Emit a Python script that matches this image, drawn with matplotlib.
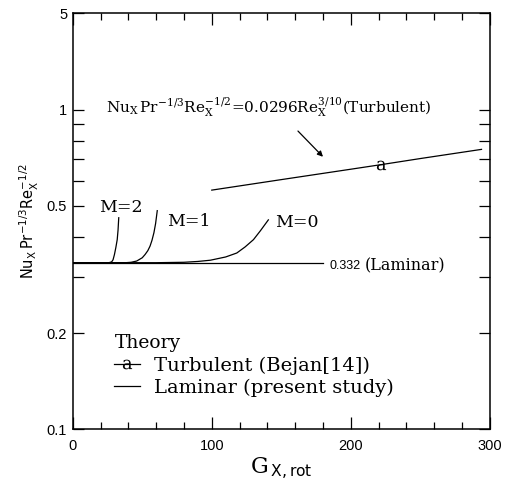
import matplotlib
matplotlib.use('Agg')
import matplotlib.pyplot as plt
from matplotlib.lines import Line2D
from matplotlib.ticker import FixedLocator, NullFormatter, MultipleLocator

plt.rcParams['mathtext.fontset'] = 'dejavuserif'

# Laminar (present study) curves
gx_m2 = [0, 26, 28, 29, 30, 31, 32, 32.6, 33.1]
nu_m2 = [0.332, 0.332, 0.334, 0.339, 0.352, 0.370, 0.392, 0.420, 0.459]
gx_m1 = [0, 38, 42, 46, 50, 52, 54, 55.6, 57, 58.4, 59.6, 60.8]
nu_m1 = [0.332, 0.332, 0.333, 0.336, 0.344, 0.352, 0.362, 0.374, 0.390,
         0.412, 0.440, 0.483]
gx_m0 = [0, 60, 80, 90, 99, 110, 118, 124, 130, 135, 140.7]
nu_m0 = [0.332, 0.332, 0.333, 0.335, 0.338, 0.346, 0.356, 0.372, 0.392,
         0.418, 0.452]

# flat laminar reference 0.332
gx_lam = [0, 180]
nu_lam = [0.332, 0.332]

# turbulent correlation (Bejan)
gx_turb = [100, 150, 200, 222, 250, 294]
nu_turb = [0.56, 0.604, 0.651, 0.673, 0.703, 0.751]

ytick_vals = [0.1, 0.2, 0.5, 1, 2]
ytick_labels = ['0.1', '0.2', '0.5', '1', '5']
yminor_vals = [0.3, 0.4, 0.6, 0.7, 0.8, 0.9]

fig = plt.figure(figsize=(5.05, 4.87), dpi=100)
ax = fig.add_axes([0.144, 0.1185, 0.826, 0.854])

lw = 0.9
ax.plot(gx_m2, nu_m2, color='black', lw=lw)
ax.plot(gx_m1, nu_m1, color='black', lw=lw)
ax.plot(gx_m0, nu_m0, color='black', lw=lw)
ax.plot(gx_lam, nu_lam, color='black', lw=lw)
ax.plot(gx_turb, nu_turb, color='black', lw=lw, marker=r'$\mathrm{a}$',
        markersize=7, mew=0, markevery=[3])

ax.set_yscale('log')
ax.set_xlim(0, 300)
ax.set_ylim(0.1, 2)

ax.yaxis.set_major_locator(FixedLocator(ytick_vals))
ax.set_yticklabels(ytick_labels)
ax.yaxis.set_minor_locator(FixedLocator(yminor_vals))
ax.yaxis.set_minor_formatter(NullFormatter())
ax.xaxis.set_major_locator(MultipleLocator(100))
ax.xaxis.set_minor_locator(MultipleLocator(20))

ax.tick_params(which='both', direction='in', top=True, right=True, width=0.9)
ax.tick_params(axis='x', which='major', length=8.4, pad=7)
ax.tick_params(axis='x', which='minor', length=4.8)
ax.tick_params(axis='y', which='both', length=8.0, pad=4)
for lab in ax.get_xticklabels() + ax.get_yticklabels():
    lab.set_fontfamily('Liberation Sans')
    lab.set_fontsize(10.5)
for sp in ax.spines.values():
    sp.set_linewidth(1.1)

ax.set_xlabel(r'$\mathrm{G}_{\,\mathsf{X,rot}}$', fontsize=16, labelpad=2)
ax.set_ylabel(r'$\mathsf{Nu_X\,Pr^{-1/3}Re_X^{-1/2}}$', fontsize=10.5, labelpad=4)

serif = 'DejaVu Serif'
ax.text(23.9, 1.017,
        r'$\mathrm{Nu_X\,Pr^{-1/3}Re_X^{-1/2}}$=0.0296$\mathrm{Re_X^{3/10}}$(Turbulent)',
        family=serif, fontsize=11, va='center', ha='left')
ax.annotate('', xy=(180, 0.712), xytext=(162, 0.857),
            arrowprops=dict(arrowstyle='-|>', lw=0.9, color='black',
                            mutation_scale=8, shrinkA=0, shrinkB=0))

ax.text(18.9, 0.494, 'M=2', family=serif, fontsize=12.5, va='center', ha='left')
ax.text(67.6, 0.448, 'M=1', family=serif, fontsize=12.5, va='center', ha='left')
ax.text(145.4, 0.443, 'M=0', family=serif, fontsize=12.5, va='center', ha='left')

ax.text(185, 0.3234, '0.332', family='Liberation Sans', fontsize=9,
        va='center', ha='left')
ax.text(210, 0.3234, '(Laminar)', family=serif, fontsize=11.5,
        va='center', ha='left')

handles = [
    Line2D([], [], color='black', lw=lw, marker=r'$\mathrm{a}$',
           markersize=7, mew=0),
    Line2D([], [], color='black', lw=lw),
]
labels = ['Turbulent (Bejan[14])', 'Laminar (present study)']
leg = ax.legend(handles, labels, title='Theory', loc='upper left',
                bbox_to_anchor=(0.1, 0.228), frameon=False,
                prop={'family': serif, 'size': 14},
                title_fontproperties={'family': serif, 'size': 13.5},
                alignment='left', borderpad=0, borderaxespad=0,
                handlelength=1.3, handletextpad=0.75, labelspacing=0.2)

fig.savefig('out.png', dpi=100)
